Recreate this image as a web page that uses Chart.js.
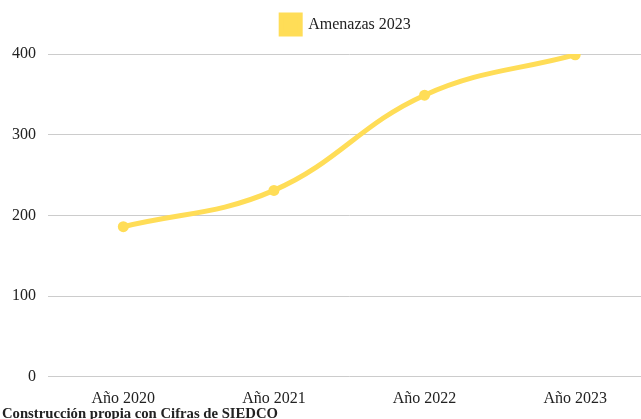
<!DOCTYPE html>
<html>
<head>
<meta charset="utf-8">
<script src="https://cdn.jsdelivr.net/npm/chart.js@4.4.1/dist/chart.umd.min.js"></script>
<style>
  body { margin: 0; background: #fff; overflow: hidden; }
  #wrap { position: relative; width: 656px; height: 412px; }
  #fuente { position: absolute; left: 2px; top: 405px; font: bold 14.7px "Liberation Serif", serif; color: #222; white-space: nowrap; }
</style>
</head>
<body>
<div id="wrap"><canvas id="grafico"></canvas></div>
<div id="fuente">Construcción propia con Cifras de SIEDCO</div>
<script>
// datos de amenazas por año
var anios = ['Año 2020', 'Año 2021', 'Año 2022', 'Año 2023'];
var amenazas = [186, 231, 349, 399];
var serieNombre = 'Amenazas 2023';
var ticksY = [0, 100, 200, 300, 400];

var amarillo = 'rgb(255, 221, 87)';

// deja mas aire debajo de la leyenda y la corre un poco a la derecha
var ajusteLeyenda = {
    id: 'ajusteLeyenda',
    beforeInit: function (chart) {
        var fitOriginal = chart.legend.fit;
        chart.legend.fit = function () {
            fitOriginal.bind(chart.legend)();
            this.height += 10;
        };
    },
    afterLayout: function (chart) {
        chart.legend.left += 18;
        chart.legend.right += 18;
    }
};

var ctx = document.getElementById('grafico').getContext('2d');
new Chart(ctx, {
    type: 'line',
    data: {
        labels: anios,
        datasets: [{
            label: serieNombre,
            data: amenazas,
            borderColor: amarillo,
            backgroundColor: amarillo,
            borderWidth: 5,
            pointRadius: 5.5,
            pointBorderWidth: 0,
            tension: 0.4,
            fill: false
        }]
    },
    options: {
        responsive: true,
        maintainAspectRatio: false,
        animation: false,
        layout: {
            padding: { top: 0, right: 0, left: 0, bottom: 0 }
        },
        plugins: {
            legend: {
                labels: {
                    boxWidth: 19,
                    boxHeight: 19,
                    padding: 15,
                    color: '#222',
                    font: { family: 'Liberation Serif', size: 16 }
                }
            },
            tooltip: { enabled: false }
        },
        scales: {
            x: {
                offset: true,
                grid: { display: false },
                border: { display: false },
                ticks: {
                    color: '#222',
                    padding: 4,
                    font: { family: 'Liberation Serif', size: 16 }
                }
            },
            y: {
                min: ticksY[0],
                max: ticksY[ticksY.length - 1],
                ticks: {
                    stepSize: 100,
                    color: '#222',
                    padding: 12,
                    font: { family: 'Liberation Serif', size: 16 }
                },
                grid: { color: '#cccccc', drawTicks: false },
                border: { display: false }
            }
        }
    },
    plugins: [ajusteLeyenda]
});
</script>
</body>
</html>
